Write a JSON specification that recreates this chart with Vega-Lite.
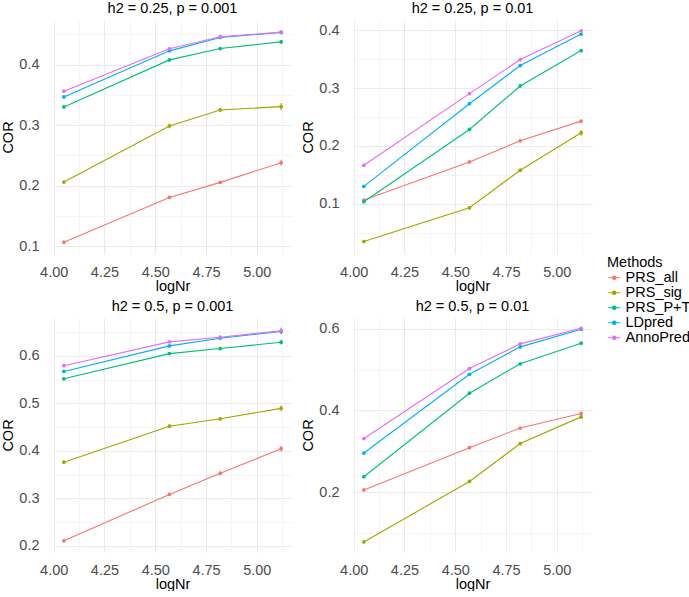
{
  "$schema": "https://vega.github.io/schema/vega-lite/v6.json",
  "padding": {"left": 0, "top": 0, "right": 0, "bottom": 0},
  "background": "white",
  "data": {"values": [
    {"panel": 1, "Methods": "PRS_all", "logNr": 4.05, "COR": 0.1066, "se": 0.002},
    {"panel": 1, "Methods": "PRS_all", "logNr": 4.57, "COR": 0.1805, "se": 0.002},
    {"panel": 1, "Methods": "PRS_all", "logNr": 4.82, "COR": 0.2053, "se": 0.002},
    {"panel": 1, "Methods": "PRS_all", "logNr": 5.12, "COR": 0.2378, "se": 0.005},
    {"panel": 1, "Methods": "PRS_sig", "logNr": 4.05, "COR": 0.2058, "se": 0.002},
    {"panel": 1, "Methods": "PRS_sig", "logNr": 4.57, "COR": 0.2985, "se": 0.004},
    {"panel": 1, "Methods": "PRS_sig", "logNr": 4.82, "COR": 0.325, "se": 0.003},
    {"panel": 1, "Methods": "PRS_sig", "logNr": 5.12, "COR": 0.3305, "se": 0.006},
    {"panel": 1, "Methods": "PRS_P+T", "logNr": 4.05, "COR": 0.330, "se": 0.002},
    {"panel": 1, "Methods": "PRS_P+T", "logNr": 4.57, "COR": 0.4077, "se": 0.002},
    {"panel": 1, "Methods": "PRS_P+T", "logNr": 4.82, "COR": 0.4265, "se": 0.002},
    {"panel": 1, "Methods": "PRS_P+T", "logNr": 5.12, "COR": 0.4375, "se": 0.003},
    {"panel": 1, "Methods": "LDpred", "logNr": 4.05, "COR": 0.3465, "se": 0.002},
    {"panel": 1, "Methods": "LDpred", "logNr": 4.57, "COR": 0.4226, "se": 0.002},
    {"panel": 1, "Methods": "LDpred", "logNr": 4.82, "COR": 0.4447, "se": 0.002},
    {"panel": 1, "Methods": "LDpred", "logNr": 5.12, "COR": 0.453, "se": 0.003},
    {"panel": 1, "Methods": "AnnoPred", "logNr": 4.05, "COR": 0.356, "se": 0.002},
    {"panel": 1, "Methods": "AnnoPred", "logNr": 4.57, "COR": 0.426, "se": 0.002},
    {"panel": 1, "Methods": "AnnoPred", "logNr": 4.82, "COR": 0.446, "se": 0.002},
    {"panel": 1, "Methods": "AnnoPred", "logNr": 5.12, "COR": 0.4535, "se": 0.003},

    {"panel": 2, "Methods": "PRS_all", "logNr": 4.05, "COR": 0.1064, "se": 0.002},
    {"panel": 2, "Methods": "PRS_all", "logNr": 4.57, "COR": 0.1724, "se": 0.002},
    {"panel": 2, "Methods": "PRS_all", "logNr": 4.82, "COR": 0.2089, "se": 0.002},
    {"panel": 2, "Methods": "PRS_all", "logNr": 5.12, "COR": 0.243, "se": 0.002},
    {"panel": 2, "Methods": "PRS_sig", "logNr": 4.05, "COR": 0.0346, "se": 0.002},
    {"panel": 2, "Methods": "PRS_sig", "logNr": 4.57, "COR": 0.093, "se": 0.002},
    {"panel": 2, "Methods": "PRS_sig", "logNr": 4.82, "COR": 0.158, "se": 0.002},
    {"panel": 2, "Methods": "PRS_sig", "logNr": 5.12, "COR": 0.2228, "se": 0.005},
    {"panel": 2, "Methods": "PRS_P+T", "logNr": 4.05, "COR": 0.1035, "se": 0.002},
    {"panel": 2, "Methods": "PRS_P+T", "logNr": 4.57, "COR": 0.2285, "se": 0.002},
    {"panel": 2, "Methods": "PRS_P+T", "logNr": 4.82, "COR": 0.3038, "se": 0.002},
    {"panel": 2, "Methods": "PRS_P+T", "logNr": 5.12, "COR": 0.3652, "se": 0.002},
    {"panel": 2, "Methods": "LDpred", "logNr": 4.05, "COR": 0.130, "se": 0.002},
    {"panel": 2, "Methods": "LDpred", "logNr": 4.57, "COR": 0.2731, "se": 0.002},
    {"panel": 2, "Methods": "LDpred", "logNr": 4.82, "COR": 0.3391, "se": 0.002},
    {"panel": 2, "Methods": "LDpred", "logNr": 5.12, "COR": 0.3936, "se": 0.002},
    {"panel": 2, "Methods": "AnnoPred", "logNr": 4.05, "COR": 0.1666, "se": 0.002},
    {"panel": 2, "Methods": "AnnoPred", "logNr": 4.57, "COR": 0.2905, "se": 0.002},
    {"panel": 2, "Methods": "AnnoPred", "logNr": 4.82, "COR": 0.3496, "se": 0.002},
    {"panel": 2, "Methods": "AnnoPred", "logNr": 5.12, "COR": 0.3994, "se": 0.002},

    {"panel": 3, "Methods": "PRS_all", "logNr": 4.05, "COR": 0.2106, "se": 0.002},
    {"panel": 3, "Methods": "PRS_all", "logNr": 4.57, "COR": 0.3083, "se": 0.003},
    {"panel": 3, "Methods": "PRS_all", "logNr": 4.82, "COR": 0.3529, "se": 0.004},
    {"panel": 3, "Methods": "PRS_all", "logNr": 5.12, "COR": 0.4046, "se": 0.006},
    {"panel": 3, "Methods": "PRS_sig", "logNr": 4.05, "COR": 0.3763, "se": 0.003},
    {"panel": 3, "Methods": "PRS_sig", "logNr": 4.57, "COR": 0.452, "se": 0.004},
    {"panel": 3, "Methods": "PRS_sig", "logNr": 4.82, "COR": 0.4676, "se": 0.004},
    {"panel": 3, "Methods": "PRS_sig", "logNr": 5.12, "COR": 0.4896, "se": 0.006},
    {"panel": 3, "Methods": "PRS_P+T", "logNr": 4.05, "COR": 0.5519, "se": 0.002},
    {"panel": 3, "Methods": "PRS_P+T", "logNr": 4.57, "COR": 0.605, "se": 0.002},
    {"panel": 3, "Methods": "PRS_P+T", "logNr": 4.82, "COR": 0.6156, "se": 0.002},
    {"panel": 3, "Methods": "PRS_P+T", "logNr": 5.12, "COR": 0.629, "se": 0.005},
    {"panel": 3, "Methods": "LDpred", "logNr": 4.05, "COR": 0.5674, "se": 0.002},
    {"panel": 3, "Methods": "LDpred", "logNr": 4.57, "COR": 0.6212, "se": 0.002},
    {"panel": 3, "Methods": "LDpred", "logNr": 4.82, "COR": 0.6375, "se": 0.002},
    {"panel": 3, "Methods": "LDpred", "logNr": 5.12, "COR": 0.6517, "se": 0.006},
    {"panel": 3, "Methods": "AnnoPred", "logNr": 4.05, "COR": 0.5795, "se": 0.002},
    {"panel": 3, "Methods": "AnnoPred", "logNr": 4.57, "COR": 0.6297, "se": 0.002},
    {"panel": 3, "Methods": "AnnoPred", "logNr": 4.82, "COR": 0.6396, "se": 0.002},
    {"panel": 3, "Methods": "AnnoPred", "logNr": 5.12, "COR": 0.6531, "se": 0.007},

    {"panel": 4, "Methods": "PRS_all", "logNr": 4.05, "COR": 0.2058, "se": 0.002},
    {"panel": 4, "Methods": "PRS_all", "logNr": 4.57, "COR": 0.309, "se": 0.002},
    {"panel": 4, "Methods": "PRS_all", "logNr": 4.82, "COR": 0.357, "se": 0.003},
    {"panel": 4, "Methods": "PRS_all", "logNr": 5.12, "COR": 0.3926, "se": 0.004},
    {"panel": 4, "Methods": "PRS_sig", "logNr": 4.05, "COR": 0.0785, "se": 0.002},
    {"panel": 4, "Methods": "PRS_sig", "logNr": 4.57, "COR": 0.2264, "se": 0.003},
    {"panel": 4, "Methods": "PRS_sig", "logNr": 4.82, "COR": 0.319, "se": 0.004},
    {"panel": 4, "Methods": "PRS_sig", "logNr": 5.12, "COR": 0.3843, "se": 0.004},
    {"panel": 4, "Methods": "PRS_P+T", "logNr": 4.05, "COR": 0.238, "se": 0.002},
    {"panel": 4, "Methods": "PRS_P+T", "logNr": 4.57, "COR": 0.4421, "se": 0.002},
    {"panel": 4, "Methods": "PRS_P+T", "logNr": 4.82, "COR": 0.514, "se": 0.002},
    {"panel": 4, "Methods": "PRS_P+T", "logNr": 5.12, "COR": 0.5645, "se": 0.002},
    {"panel": 4, "Methods": "LDpred", "logNr": 4.05, "COR": 0.2959, "se": 0.002},
    {"panel": 4, "Methods": "LDpred", "logNr": 4.57, "COR": 0.4884, "se": 0.002},
    {"panel": 4, "Methods": "LDpred", "logNr": 4.82, "COR": 0.5554, "se": 0.002},
    {"panel": 4, "Methods": "LDpred", "logNr": 5.12, "COR": 0.5983, "se": 0.003},
    {"panel": 4, "Methods": "AnnoPred", "logNr": 4.05, "COR": 0.3314, "se": 0.002},
    {"panel": 4, "Methods": "AnnoPred", "logNr": 4.57, "COR": 0.5025, "se": 0.002},
    {"panel": 4, "Methods": "AnnoPred", "logNr": 4.82, "COR": 0.5628, "se": 0.002},
    {"panel": 4, "Methods": "AnnoPred", "logNr": 5.12, "COR": 0.6008, "se": 0.003}
  ]},
  "config": {
    "font": "Liberation Sans",
    "view": {"stroke": null},
    "axis": {
      "domain": false, "ticks": false, "tickSize": 0,
      "labelFontSize": 14.5, "titleFontSize": 14.5, "titleFontWeight": "normal",
      "labelColor": "#4d4d4d", "titleColor": "#000000",
      "gridColor": "#ebebeb", "labelFlush": false, "labelOverlap": false,
      "labelFont": "Liberation Sans", "titleFont": "Liberation Sans"
    },
    "axisX": {"labelPadding": 11, "titlePadding": 1},
    "axisY": {"labelPadding": 14, "titlePadding": 3},
    "title": {"fontSize": 14.5, "fontWeight": "normal", "font": "Liberation Sans", "color": "#000000", "offset": 4, "anchor": "middle"},
    "legend": {
      "titleFontSize": 14.5, "titleFontWeight": "normal", "titleColor": "#000000",
      "labelFontSize": 14.5, "labelColor": "#000000", "labelFont": "Liberation Sans", "titleFont": "Liberation Sans"
    }
  },
  "columns": 2,
  "bounds": "flush",
  "spacing": {"row": 64, "column": 61},
  "resolve": {"scale": {"color": "shared"}, "legend": {"color": "shared"}},
  "concat": [
    {
      "width": 239, "height": 234,
      "title": "h2 = 0.25, p = 0.001",
      "transform": [{"filter": "datum.panel == 1"}],
      "encoding": {
        "x": {"field": "logNr", "type": "quantitative", "scale": {"domain": [3.9965, 5.1735], "nice": false, "zero": false},
              "axis": {"title": "logNr", "values": [4.0, 4.125, 4.25, 4.375, 4.5, 4.625, 4.75, 4.875, 5.0, 5.125],
                       "labelExpr": "(datum.value*4) % 1 == 0 ? format(datum.value, '.2f') : ''",
                       "gridWidth": {"condition": {"test": "(datum.value*4) % 1 != 0", "value": 0.5}, "value": 1}}},
        "y": {"field": "COR", "type": "quantitative", "scale": {"domain": [0.087, 0.4736], "nice": false, "zero": false},
              "axis": {"title": "COR", "values": [0.1, 0.15, 0.2, 0.25, 0.3, 0.35, 0.4, 0.45],
                       "labelExpr": "round(datum.value*100) % 10 == 0 ? format(datum.value, '.1f') : ''",
                       "gridWidth": {"condition": {"test": "round(datum.value*100) % 10 != 0", "value": 0.5}, "value": 1}}},
        "color": {"field": "Methods", "type": "nominal",
                  "scale": {"domain": ["PRS_all", "PRS_sig", "PRS_P+T", "LDpred", "AnnoPred"], "range": ["#F8766D", "#A3A500", "#00BF7D", "#00B0F6", "#E76BF3"]},
                  "legend": {"title": "Methods", "orient": "none", "legendX": 554, "legendY": 236, "rowPadding": 0, "titlePadding": 0,
                             "symbolType": "M-1,0H1M-0.28,0A0.28,0.28,0,1,0,0.28,0A0.28,0.28,0,1,0,-0.28,0", "symbolSize": 144, "symbolStrokeWidth": 1.2}}
      },
      "layer": [
        {"mark": {"type": "line", "strokeWidth": 1.1}},
        {"mark": {"type": "errorbar", "thickness": 1.1}, "encoding": {"yError": {"field": "se"}}},
        {"mark": {"type": "point", "filled": true, "size": 14, "opacity": 1}}
      ]
    },
    {
      "width": 239, "height": 234,
      "title": "h2 = 0.25, p = 0.01",
      "transform": [{"filter": "datum.panel == 2"}],
      "encoding": {
        "x": {"field": "logNr", "type": "quantitative", "scale": {"domain": [3.9965, 5.1735], "nice": false, "zero": false},
              "axis": {"title": "logNr", "values": [4.0, 4.125, 4.25, 4.375, 4.5, 4.625, 4.75, 4.875, 5.0, 5.125],
                       "labelExpr": "(datum.value*4) % 1 == 0 ? format(datum.value, '.2f') : ''",
                       "gridWidth": {"condition": {"test": "(datum.value*4) % 1 != 0", "value": 0.5}, "value": 1}}},
        "y": {"field": "COR", "type": "quantitative", "scale": {"domain": [0.013, 0.418], "nice": false, "zero": false},
              "axis": {"title": "COR", "values": [0.05, 0.1, 0.15, 0.2, 0.25, 0.3, 0.35, 0.4],
                       "labelExpr": "round(datum.value*100) % 10 == 0 ? format(datum.value, '.1f') : ''",
                       "gridWidth": {"condition": {"test": "round(datum.value*100) % 10 != 0", "value": 0.5}, "value": 1}}},
        "color": {"field": "Methods", "type": "nominal"}
      },
      "layer": [
        {"mark": {"type": "line", "strokeWidth": 1.1}},
        {"mark": {"type": "errorbar", "thickness": 1.1}, "encoding": {"yError": {"field": "se"}}},
        {"mark": {"type": "point", "filled": true, "size": 14, "opacity": 1}}
      ]
    },
    {
      "width": 239, "height": 234,
      "title": "h2 = 0.5, p = 0.001",
      "transform": [{"filter": "datum.panel == 3"}],
      "encoding": {
        "x": {"field": "logNr", "type": "quantitative", "scale": {"domain": [3.9965, 5.1735], "nice": false, "zero": false},
              "axis": {"title": "logNr", "values": [4.0, 4.125, 4.25, 4.375, 4.5, 4.625, 4.75, 4.875, 5.0, 5.125],
                       "labelExpr": "(datum.value*4) % 1 == 0 ? format(datum.value, '.2f') : ''",
                       "gridWidth": {"condition": {"test": "(datum.value*4) % 1 != 0", "value": 0.5}, "value": 1}}},
        "y": {"field": "COR", "type": "quantitative", "scale": {"domain": [0.187, 0.68], "nice": false, "zero": false},
              "axis": {"title": "COR", "values": [0.2, 0.25, 0.3, 0.35, 0.4, 0.45, 0.5, 0.55, 0.6, 0.65],
                       "labelExpr": "round(datum.value*100) % 10 == 0 ? format(datum.value, '.1f') : ''",
                       "gridWidth": {"condition": {"test": "round(datum.value*100) % 10 != 0", "value": 0.5}, "value": 1}}},
        "color": {"field": "Methods", "type": "nominal"}
      },
      "layer": [
        {"mark": {"type": "line", "strokeWidth": 1.1}},
        {"mark": {"type": "errorbar", "thickness": 1.1}, "encoding": {"yError": {"field": "se"}}},
        {"mark": {"type": "point", "filled": true, "size": 14, "opacity": 1}}
      ]
    },
    {
      "width": 239, "height": 234,
      "title": "h2 = 0.5, p = 0.01",
      "transform": [{"filter": "datum.panel == 4"}],
      "encoding": {
        "x": {"field": "logNr", "type": "quantitative", "scale": {"domain": [3.9965, 5.1735], "nice": false, "zero": false},
              "axis": {"title": "logNr", "values": [4.0, 4.125, 4.25, 4.375, 4.5, 4.625, 4.75, 4.875, 5.0, 5.125],
                       "labelExpr": "(datum.value*4) % 1 == 0 ? format(datum.value, '.2f') : ''",
                       "gridWidth": {"condition": {"test": "(datum.value*4) % 1 != 0", "value": 0.5}, "value": 1}}},
        "y": {"field": "COR", "type": "quantitative", "scale": {"domain": [0.054, 0.626], "nice": false, "zero": false},
              "axis": {"title": "COR", "values": [0.1, 0.2, 0.3, 0.4, 0.5, 0.6],
                       "labelExpr": "round(datum.value*100) % 20 == 0 ? format(datum.value, '.1f') : ''",
                       "gridWidth": {"condition": {"test": "round(datum.value*100) % 20 != 0", "value": 0.5}, "value": 1}}},
        "color": {"field": "Methods", "type": "nominal"}
      },
      "layer": [
        {"mark": {"type": "line", "strokeWidth": 1.1}},
        {"mark": {"type": "errorbar", "thickness": 1.1}, "encoding": {"yError": {"field": "se"}}},
        {"mark": {"type": "point", "filled": true, "size": 14, "opacity": 1}}
      ]
    }
  ]
}
